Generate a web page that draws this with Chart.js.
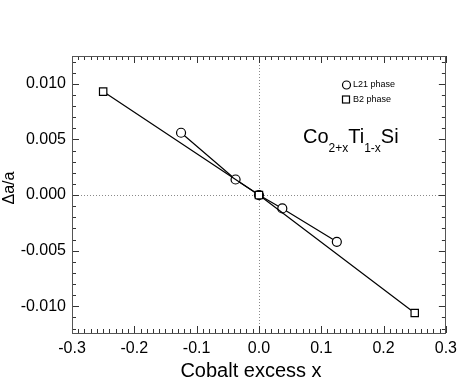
<!DOCTYPE html>
<html lang="en">
<head>
<meta charset="UTF-8" />
<title>Chart</title>
<script src="https://cdn.jsdelivr.net/npm/chart.js@4"></script>
<style>
  body { margin: 0; background: #fff; }
</style>
</head>
<body>
<canvas id="myChart" width="463" height="387"></canvas>
<script>
// values
const l21X = [-0.125, -0.0375, 0, 0.0375, 0.125];
const l21Y = [0.0056, 0.0014, 0.0, -0.0012, -0.0042];
const b2X = [-0.25, 0, 0.25];
const b2Y = [0.0093, 0.0, -0.0106];
const seriesNames = ["L21 phase", "B2 phase"];
const xTickValues = [-0.3, -0.2, -0.1, 0.0, 0.1, 0.2, 0.3];
const yTickValues = [-0.01, -0.005, 0.0, 0.005, 0.01];

const FONT = "'Liberation Sans', Arial, Helvetica, sans-serif";

const toPoints = (xs, ys) => xs.map((v, i) => ({ x: v, y: ys[i] }));

// frame, inward ticks, dotted zero lines
const framePlugin = {
  id: "frame",
  beforeDatasetsDraw(chart) {
    const { ctx, chartArea: a, scales } = chart;
    const x = scales.x, y = scales.y;
    ctx.save();
    ctx.lineWidth = 1;
    ctx.strokeStyle = "#8a8a8a";
    ctx.setLineDash([1, 2]);
    ctx.beginPath();
    const x0 = Math.round(x.getPixelForValue(0)) + 0.5;
    const y0 = Math.round(y.getPixelForValue(0)) + 0.5;
    ctx.moveTo(x0, a.top); ctx.lineTo(x0, a.bottom);
    ctx.moveTo(a.left, y0); ctx.lineTo(a.right, y0);
    ctx.stroke();
    ctx.setLineDash([]);

    ctx.strokeStyle = "#333";
    ctx.beginPath();
    for (let i = -30; i <= 30; i++) {
      const px = Math.round(x.getPixelForValue(i / 100)) + 0.5;
      const len = i % 10 === 0 ? 7 : 4;
      ctx.moveTo(px, a.bottom); ctx.lineTo(px, a.bottom - len);
      ctx.moveTo(px, a.top); ctx.lineTo(px, a.top + len);
    }
    for (let j = -12; j <= 12; j++) {
      const py = Math.round(y.getPixelForValue(j / 1000)) + 0.5;
      const len = j % 5 === 0 ? 7 : 4;
      ctx.moveTo(a.left, py); ctx.lineTo(a.left + len, py);
      ctx.moveTo(a.right, py); ctx.lineTo(a.right - len, py);
    }
    ctx.stroke();

    ctx.strokeStyle = "#555";
    ctx.strokeRect(Math.round(a.left) + 0.5, Math.round(a.top) + 0.5,
      Math.round(a.right - a.left) - 1, Math.round(a.bottom - a.top));
    ctx.restore();
  },
  afterDraw(chart) {
    const { ctx } = chart;
    ctx.save();
    ctx.fillStyle = "#000";
    ctx.strokeStyle = "#000";
    ctx.lineWidth = 1.2;

    // legend
    ctx.font = "9px " + FONT;
    ctx.textBaseline = "middle";
    ctx.textAlign = "left";
    ctx.beginPath();
    ctx.arc(346.5, 85, 4, 0, Math.PI * 2);
    ctx.stroke();
    ctx.strokeRect(342.5, 96, 7, 7);
    ctx.fillText(seriesNames[0], 353, 85);
    ctx.fillText(seriesNames[1], 353, 100);

    // formula Co(2+x)Ti(1-x)Si
    const parts = [["Co", 0], ["2+x", 1], ["Ti", 0], ["1-x", 1], ["Si", 0]];
    let cx = 303;
    ctx.textBaseline = "alphabetic";
    for (const [txt, sub] of parts) {
      ctx.font = (sub ? "12px " : "20px ") + FONT;
      ctx.fillText(txt, cx, sub ? 152 : 143);
      cx += ctx.measureText(txt).width;
    }

    // axis titles
    ctx.font = "20px " + FONT;
    ctx.textAlign = "center";
    ctx.textBaseline = "middle";
    ctx.fillText("Cobalt excess x", 251, 371);

    ctx.font = "16px " + FONT;
    ctx.translate(10, 188);
    ctx.rotate(-Math.PI / 2);
    ctx.fillText("\u0394a/a", 0, 0);
    ctx.restore();
  },
};

const myChart = new Chart(document.getElementById("myChart").getContext("2d"), {
  type: "line",
  data: {
    datasets: [
      {
        label: seriesNames[0],
        data: toPoints(l21X, l21Y),
        borderColor: "#000",
        backgroundColor: "#fff",
        borderWidth: 1.2,
        pointStyle: "circle",
        pointRadius: 4.5,
        pointBorderWidth: 1.2,
        pointBackgroundColor: "#fff",
        pointBorderColor: "#000",
        order: 1,
      },
      {
        label: seriesNames[1],
        data: toPoints(b2X, b2Y),
        borderColor: "#000",
        backgroundColor: "#fff",
        borderWidth: 1.2,
        pointStyle: "rect",
        pointRadius: 5.2,
        pointBorderWidth: 1.2,
        pointBackgroundColor: "#fff",
        pointBorderColor: "#000",
        order: 0,
      },
    ],
  },
  options: {
    responsive: false,
    animation: false,
    layout: { padding: { top: 56, right: 14, left: 0, bottom: 0 } },
    plugins: { legend: { display: false }, tooltip: { enabled: false } },
    scales: {
      x: {
        type: "linear",
        min: -0.3,
        max: 0.3,
        afterBuildTicks: (s) => { s.ticks = xTickValues.map((v) => ({ value: v })); },
        afterFit: (s) => { s.height = 54; },
        grid: { display: false, drawTicks: false },
        border: { display: false },
        ticks: {
          padding: 6,
          color: "#000",
          font: { family: FONT, size: 16 },
          maxRotation: 0,
          callback: (v) => Number(v).toFixed(1),
        },
      },
      y: {
        type: "linear",
        min: -0.0124,
        max: 0.0125,
        afterBuildTicks: (s) => { s.ticks = yTickValues.map((v) => ({ value: v })); },
        afterFit: (s) => { s.width = 72; },
        grid: { display: false, drawTicks: false },
        border: { display: false },
        ticks: {
          padding: 6,
          color: "#000",
          font: { family: FONT, size: 16 },
          callback: (v) => Number(v).toFixed(3),
        },
      },
    },
  },
  plugins: [framePlugin],
});
</script>
</body>
</html>
